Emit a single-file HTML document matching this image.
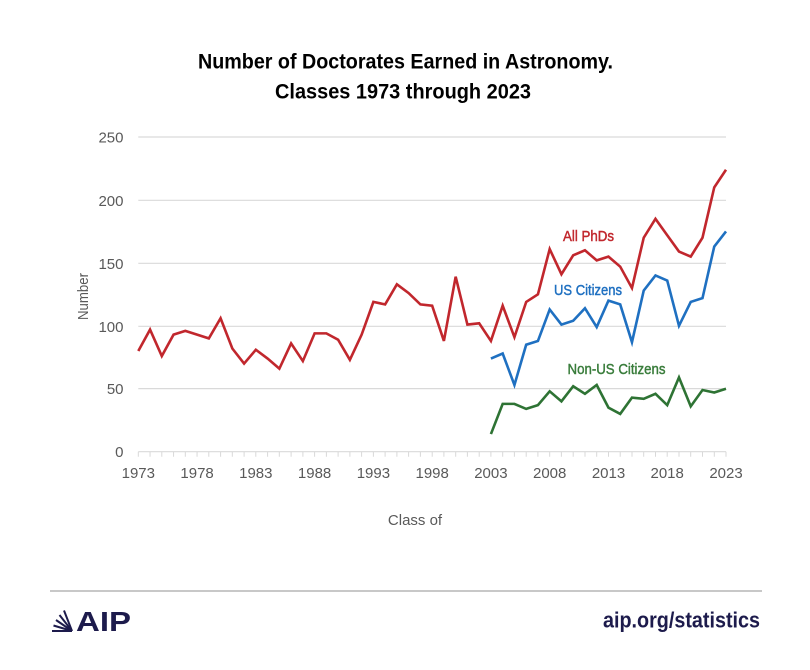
<!DOCTYPE html>
<html>
<head>
<meta charset="utf-8">
<style>
html,body{margin:0;padding:0;background:#fff;}
svg{display:block;}
</style>
</head>
<body>
<svg width="810" height="670" viewBox="0 0 810 670" xmlns="http://www.w3.org/2000/svg">
<rect width="810" height="670" fill="#fff"/>
<!-- Title -->
<text x="198" y="68.5" font-family="Liberation Sans, Arial, sans-serif" font-weight="bold" font-size="21" fill="#000" textLength="415" lengthAdjust="spacingAndGlyphs">Number of Doctorates Earned in Astronomy.</text>
<text x="275" y="98.5" font-family="Liberation Sans, Arial, sans-serif" font-weight="bold" font-size="21" fill="#000" textLength="256" lengthAdjust="spacingAndGlyphs">Classes 1973 through 2023</text>

<!-- Gridlines -->
<g stroke="#d9d9d9" stroke-width="1.2">
<line x1="138.3" y1="137" x2="726" y2="137"/>
<line x1="138.3" y1="200.3" x2="726" y2="200.3"/>
<line x1="138.3" y1="263.3" x2="726" y2="263.3"/>
<line x1="138.3" y1="326.3" x2="726" y2="326.3"/>
<line x1="138.3" y1="388.6" x2="726" y2="388.6"/>
<line x1="138.3" y1="451.7" x2="726" y2="451.7"/>
</g>
<!-- Year ticks -->
<g stroke="#d9d9d9" stroke-width="1">
<path d="M138.3 451.7v5 M150.05 451.7v5 M161.8 451.7v5 M173.56 451.7v5 M185.3 451.7v5 M197.07 451.7v5 M208.8 451.7v5 M220.6 451.7v5 M232.3 451.7v5 M244.1 451.7v5 M255.8 451.7v5 M267.6 451.7v5 M279.3 451.7v5 M291.1 451.7v5 M302.9 451.7v5 M314.6 451.7v5 M326.4 451.7v5 M338.1 451.7v5 M349.9 451.7v5 M361.6 451.7v5 M373.4 451.7v5 M385.1 451.7v5 M396.9 451.7v5 M408.6 451.7v5 M420.4 451.7v5 M432.2 451.7v5 M443.9 451.7v5 M455.7 451.7v5 M467.4 451.7v5 M479.2 451.7v5 M490.9 451.7v5 M502.7 451.7v5 M514.4 451.7v5 M526.2 451.7v5 M537.9 451.7v5 M549.7 451.7v5 M561.4 451.7v5 M573.2 451.7v5 M585.0 451.7v5 M596.7 451.7v5 M608.5 451.7v5 M620.2 451.7v5 M632.0 451.7v5 M643.7 451.7v5 M655.5 451.7v5 M667.2 451.7v5 M679.0 451.7v5 M690.7 451.7v5 M702.5 451.7v5 M714.3 451.7v5 M726 451.7v5"/>
</g>

<!-- Y tick labels -->
<g font-family="Liberation Sans, Arial, sans-serif" font-size="15" fill="#595959" text-anchor="end">
<text x="123.5" y="142.5">250</text>
<text x="123.5" y="205.8">200</text>
<text x="123.5" y="268.8">150</text>
<text x="123.5" y="331.8">100</text>
<text x="123.5" y="394">50</text>
<text x="123.5" y="457">0</text>
</g>
<!-- X tick labels -->
<g font-family="Liberation Sans, Arial, sans-serif" font-size="15" fill="#595959" text-anchor="middle">
<text x="138.3" y="478">1973</text>
<text x="197.1" y="478">1978</text>
<text x="255.8" y="478">1983</text>
<text x="314.6" y="478">1988</text>
<text x="373.4" y="478">1993</text>
<text x="432.2" y="478">1998</text>
<text x="490.9" y="478">2003</text>
<text x="549.7" y="478">2008</text>
<text x="608.5" y="478">2013</text>
<text x="667.2" y="478">2018</text>
<text x="726" y="478">2023</text>
</g>
<!-- Axis titles -->
<text x="415" y="525" font-family="Liberation Sans, Arial, sans-serif" font-size="15" fill="#595959" text-anchor="middle">Class of</text>
<text transform="translate(88,296.5) rotate(-90)" x="0" y="0" font-family="Liberation Sans, Arial, sans-serif" font-size="15" fill="#595959" text-anchor="middle" textLength="47" lengthAdjust="spacingAndGlyphs">Number</text>

<!-- Data series -->
<g transform="translate(138.3,451.7) scale(11.754,-1.2587)" fill="none" stroke-linejoin="miter" stroke-linecap="butt">
<polyline vector-effect="non-scaling-stroke" stroke="#c1272d" stroke-width="2.6" points="0,80 1,97 2,76 3,93 4,96 5,93 6,90 7,106 8,82 9,70 10,81 11,74 12,66 13,86 14,72 15,94 16,94 17,89 18,73 19,93 20,119 21,117 22,133 23,126 24,117 25,116 26,88 27,139 28,101 29,102 30,88 31,116 32,91 33,119 34,125 35,161 36,141 37,156 38,160 39,152 40,155 41,147 42,130 43,170 44,185 45,172 46,159 47,155 48,170 49,210 50,224"/>
<polyline vector-effect="non-scaling-stroke" stroke="#1f70c1" stroke-width="2.6" points="30,74 31,78 32,53 33,85 34,88 35,113 36,101 37,104 38,114 39,99 40,120 41,117 42,87 43,128 44,140 45,136 46,100 47,119 48,122 49,163 50,175"/>
<polyline vector-effect="non-scaling-stroke" stroke="#2e7334" stroke-width="2.6" points="30,14 31,38 32,38 33,34 34,37 35,48 36,40 37,52 38,46 39,53 40,35 41,30 42,43 43,42 44,46 45,37 46,59 47,36 48,49 49,47 50,50"/>
</g>

<!-- Series labels -->
<g font-family="Liberation Sans, Arial, sans-serif" font-size="15" stroke-width="0.45" lengthAdjust="spacingAndGlyphs">
<text x="563" y="241" fill="#c1272d" stroke="#c1272d" textLength="51" lengthAdjust="spacingAndGlyphs">All PhDs</text>
<text x="554" y="295" fill="#1f70c1" stroke="#1f70c1" textLength="68" lengthAdjust="spacingAndGlyphs">US Citizens</text>
<text x="567.5" y="374" fill="#3a7d3c" stroke="#3a7d3c" textLength="98" lengthAdjust="spacingAndGlyphs">Non-US Citizens</text>
</g>

<!-- Footer -->
<line x1="50" y1="591" x2="762" y2="591" stroke="#c8c8c8" stroke-width="2"/>
<g stroke="#1d1b4c" stroke-width="2" stroke-linecap="butt">
<line x1="72" y1="631" x2="52" y2="631"/>
<line x1="72" y1="631" x2="53.5" y2="625.5"/>
<line x1="72" y1="631" x2="56" y2="620"/>
<line x1="72" y1="631" x2="59.5" y2="615"/>
<line x1="72" y1="631" x2="64" y2="610.5"/>
</g>
<text x="76" y="631" font-family="Liberation Sans, Arial, sans-serif" font-weight="bold" font-size="28" fill="#1d1b4c" textLength="55" lengthAdjust="spacingAndGlyphs">AIP</text>
<text x="603" y="627.5" font-family="Liberation Sans, Arial, sans-serif" font-weight="bold" font-size="22.5" fill="#1d1b4c" textLength="157" lengthAdjust="spacingAndGlyphs">aip.org/statistics</text>
</svg>
</body>
</html>
